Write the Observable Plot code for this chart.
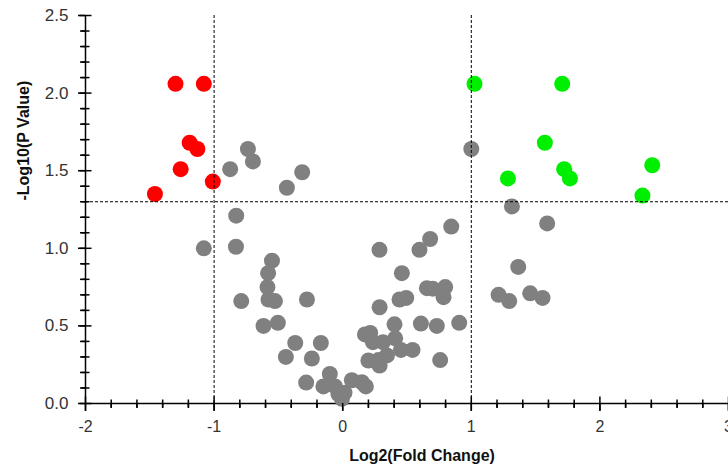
<!DOCTYPE html>
<html>
<head>
<meta charset="utf-8">
<script src="https://cdn.jsdelivr.net/npm/d3@7"></script>
<script src="https://cdn.jsdelivr.net/npm/@observablehq/plot@0.6"></script>
<style>
  body { margin: 0; background: #fff; }
  #chart svg { font-family: "Liberation Sans", Arial, sans-serif; color: #000; }
</style>
</head>
<body>
<div id="chart"></div>
<script>
// Not significant (gray)
const grayX = [-1.08, -0.83, -0.828, -0.875, -0.737, -0.698, -0.434, -0.315, -0.55, -0.58, -0.585, -0.577, -0.527, -0.789, -0.278, -0.616, -0.504, -0.369, -0.17, -0.442, -0.24, -0.10, -0.284, -0.15, -0.06, -0.033, 0.014, -0.006, 0.071, 0.149, 0.18,
  0.173, 0.214, 0.235, 0.313, 0.408, 0.453, 0.543, 0.344, 0.278, 0.2, 0.287, 0.287, 0.403, 0.286, 0.597, 0.68, 0.844, 0.46, 0.655, 0.70, 0.797, 0.784, 0.442, 0.494, 0.608, 0.732, 0.906, 0.758,
  1.0, 1.316, 1.59, 1.365, 1.212, 1.295, 1.458, 1.554];
const grayY = [1.00, 1.01, 1.21, 1.51, 1.64, 1.56, 1.39, 1.49, 0.92, 0.84, 0.75, 0.67, 0.66, 0.66, 0.67, 0.50, 0.52, 0.39, 0.39, 0.30, 0.29, 0.19, 0.135, 0.11, 0.11, 0.06, 0.07, 0.03, 0.15, 0.137, 0.11,
  0.445, 0.455, 0.395, 0.395, 0.42, 0.345, 0.345, 0.31, 0.28, 0.277, 0.245, 0.62, 0.51, 0.99, 0.99, 1.06, 1.14, 0.84, 0.743, 0.74, 0.75, 0.685, 0.67, 0.68, 0.515, 0.50, 0.52, 0.28,
  1.64, 1.27, 1.16, 0.88, 0.70, 0.66, 0.71, 0.68];
// Down-regulated (red)
const redX = [-1.30, -1.08, -1.19, -1.13, -1.26, -1.01, -1.46];
const redY = [2.06, 2.06, 1.68, 1.64, 1.51, 1.43, 1.35];
// Up-regulated (green)
const greenX = [1.025, 1.707, 1.572, 1.722, 1.767, 1.285, 2.407, 2.331];
const greenY = [2.06, 2.06, 1.68, 1.51, 1.45, 1.45, 1.535, 1.34];

const fcCutoffs = [-1, 1];
const pCutoff = [1.3];
const xTicks = [-2, -1, 0, 1, 2, 3];
const yTicks = [0, 0.5, 1.0, 1.5, 2.0, 2.5];
const xMinor = d3.range(-2, 3.0001, 0.2).map(v => +v.toFixed(2)).filter(v => !xTicks.some(t => Math.abs(t - v) < 1e-6));
const yMinor = d3.range(0, 2.5001, 0.1).map(v => +v.toFixed(2)).filter(v => !yTicks.some(t => Math.abs(t - v) < 1e-6));

const toRows = (xs, ys) => xs.map((x, i) => ({x, y: ys[i]}));
const gray = toRows(grayX, grayY);
const red = toRows(redX, redY);
const green = toRows(greenX, greenY);

// tick glyphs that cross the axis line
const vTick = h => ({draw(ctx) { ctx.moveTo(0, -h); ctx.lineTo(0, h); }});
const hTick = w => ({draw(ctx) { ctx.moveTo(-w, 0); ctx.lineTo(w, 0); }});

const chart = Plot.plot({
  width: 728,
  height: 469,
  marginLeft: 85,
  marginRight: 0,
  marginTop: 15,
  marginBottom: 66,
  x: {domain: [-2, 3]},
  y: {domain: [0, 2.5]},
  marks: [
    // axis lines and crossing ticks (drawn first)
    Plot.ruleY([0], {y: d => d, stroke: "#000", strokeWidth: 1.5}),
    Plot.ruleX([-2], {x: d => d, stroke: "#000", strokeWidth: 1.5}),
    Plot.dot(xTicks, {x: d => d, y: 0, symbol: vTick(7), fill: "none", stroke: "#000", strokeWidth: 1.5}),
    Plot.dot(xMinor, {x: d => d, y: 0, symbol: vTick(4), fill: "none", stroke: "#000", strokeWidth: 1.5}),
    Plot.dot(yTicks, {y: d => d, x: -2, symbol: hTick(6), fill: "none", stroke: "#000", strokeWidth: 1.5}),
    Plot.dot(yMinor, {y: d => d, x: -2, symbol: hTick(4), fill: "none", stroke: "#000", strokeWidth: 1.5}),
    Plot.axisX(xMinor, {tickSize: 5, tickFormat: () => "", label: null, strokeWidth: 1.5}),
    Plot.axisY(yMinor, {tickSize: 5, tickFormat: () => "", label: null, strokeWidth: 1.5}),
    // points
    Plot.dot(gray, {x: "x", y: "y", r: 8, fill: "#808080", stroke: "none"}),
    Plot.dot(red, {x: "x", y: "y", r: 8, fill: "#ff0000", stroke: "none"}),
    Plot.dot(green, {x: "x", y: "y", r: 8, fill: "#00ee00", stroke: "none"}),
    // thresholds
    Plot.ruleX(fcCutoffs, {x: d => d, stroke: "#000", strokeWidth: 1, strokeDasharray: "3,2"}),
    Plot.ruleY(pCutoff, {y: d => d, stroke: "#000", strokeWidth: 1, strokeDasharray: "3,2"}),
    // major ticks and labels
    Plot.axisX(xTicks, {tickSize: 8, tickPadding: 9, fontSize: 16, fill: "#333", strokeWidth: 1.5, tickFormat: d => String(d), label: null}),
    Plot.axisY(yTicks, {tickSize: 7, tickPadding: 10, fontSize: 17, fill: "#333", strokeWidth: 1.5, tickFormat: d => d.toFixed(1), label: null}),
    Plot.text(["Log2(Fold Change)"], {text: d => d, frameAnchor: "bottom", dx: 15, dy: 57, fontSize: 16, fontWeight: "bold", fill: "#111"}),
    Plot.text(["-Log10(P Value)"], {text: d => d, frameAnchor: "left", rotate: -90, dx: -62, dy: -9, fontSize: 16, fontWeight: "bold", fill: "#111"})
  ]
});
document.getElementById("chart").append(chart);
</script>
</body>
</html>
